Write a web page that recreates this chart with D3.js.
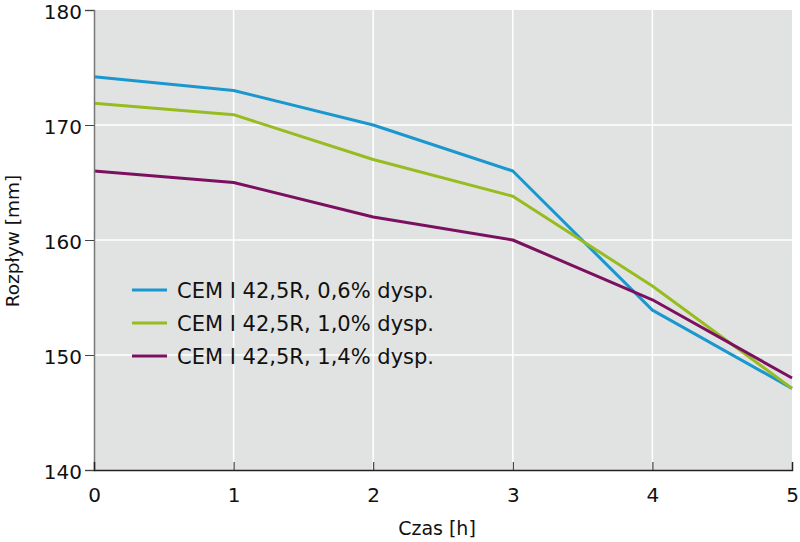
<!DOCTYPE html>
<html><head><meta charset="utf-8">
<script src="https://cdn.jsdelivr.net/npm/d3@7"></script>
<style>body{margin:0;background:#fff}svg{display:block}text{font-family:"DejaVu Sans",sans-serif}</style>
</head><body><svg id="c" width="800" height="542"></svg>
<script>
const hours = [0,1,2,3,4,5];
const seriesNames = ["CEM I 42,5R, 0,6% dysp.","CEM I 42,5R, 1,0% dysp.","CEM I 42,5R, 1,4% dysp."];
const blueValues = [174.2,173.0,170.0,166.0,153.9,147.1];
const greenValues = [171.9,170.9,167.0,163.8,156.0,147.1];
const purpleValues = [166.0,165.0,162.0,160.0,154.8,148.0];
const yTicks = [140,150,160,170,180];
const xTicks = [0,1,2,3,4,5];
const colors = ["#1b97cf","#97bc1f","#7b1061"];
const series = [blueValues, greenValues, purpleValues];

const svg = d3.select("#c");
const x = d3.scaleLinear().domain([0,5]).range([94,792]);
const y = d3.scaleLinear().domain([140,180]).range([470,10]);

svg.append("rect").attr("x",94).attr("y",10).attr("width",698).attr("height",460).attr("fill","#e1e3e2");
// grid
svg.append("g").selectAll("line").data(xTicks.slice(1,5)).join("line")
  .attr("x1",d=>x(d)).attr("x2",d=>x(d)).attr("y1",10).attr("y2",470).attr("stroke","#fff").attr("stroke-width",1.5);
svg.append("g").selectAll("line").data(yTicks.slice(1,4)).join("line")
  .attr("x1",94).attr("x2",792).attr("y1",d=>y(d)).attr("y2",d=>y(d)).attr("stroke","#fff").attr("stroke-width",1.5);

const line = d3.line().x((d,i)=>x(hours[i])).y(d=>y(d));
series.forEach((s,k)=>{
  svg.append("path").datum(s).attr("d",line).attr("fill","none").attr("stroke",colors[k]).attr("stroke-width",3).attr("stroke-linejoin","round");
});

// axes
const ya = svg.append("g").attr("transform","translate(94,0)").call(d3.axisLeft(y).tickValues(yTicks).tickSize(9).tickPadding(3).tickFormat(d3.format("d")));
ya.select(".domain").attr("stroke","#777").attr("stroke-width",1.5);
ya.selectAll(".tick line").attr("stroke","#444");
ya.selectAll("text").attr("font-size",20).attr("fill","#111").attr("dy","0.4em");
const xa = svg.append("g").attr("transform","translate(0,470)").call(d3.axisBottom(x).tickValues(xTicks).tickSize(-8).tickPadding(18).tickFormat(d3.format("d")));
xa.select(".domain").attr("stroke","#222").attr("stroke-width",1.5);
xa.selectAll(".tick line").attr("stroke","#222");
xa.selectAll("text").attr("font-size",20).attr("fill","#111");

svg.append("text").attr("x",437).attr("y",535).attr("text-anchor","middle").attr("font-size",19).attr("fill","#111").text("Czas [h]");
svg.append("text").attr("transform","translate(19,241) rotate(-90)").attr("text-anchor","middle").attr("font-size",18.5).attr("fill","#111").text("Rozpływ [mm]");

// legend
const lg = svg.append("g");
seriesNames.forEach((n,k)=>{
  const yy = 290 + k*33;
  lg.append("line").attr("x1",132).attr("x2",167).attr("y1",yy).attr("y2",yy).attr("stroke",colors[k]).attr("stroke-width",3);
  lg.append("text").attr("x",177).attr("y",yy).attr("dy","0.36em").attr("font-size",21).attr("fill","#111").text(n);
});
</script></body></html>
